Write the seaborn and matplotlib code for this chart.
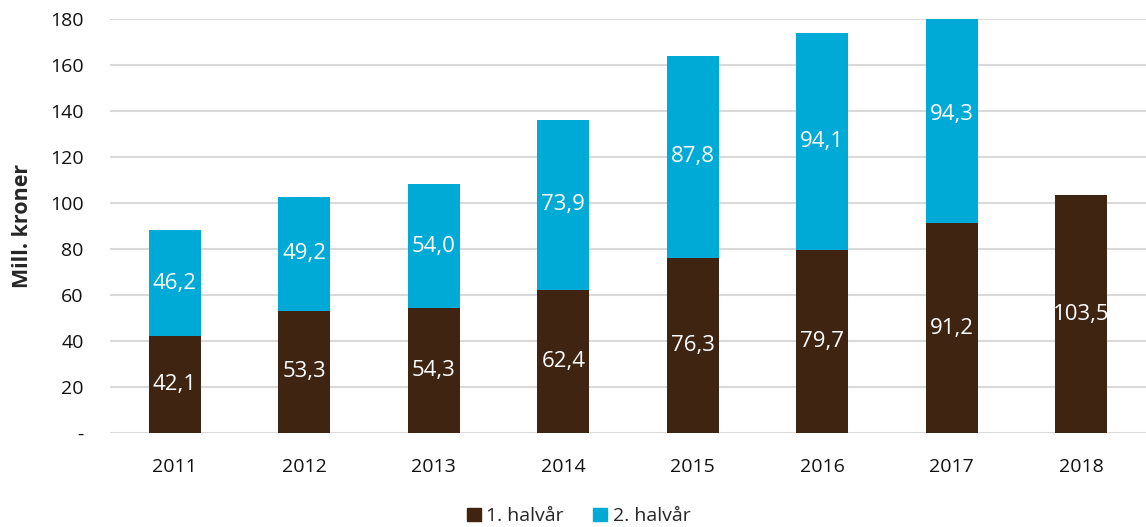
import numpy as np
import pandas as pd
import seaborn as sns
from matplotlib import pyplot as plt
from matplotlib.patches import Patch

years = ["2011", "2012", "2013", "2014", "2015", "2016", "2017", "2018"]
first_half = [42.1, 53.3, 54.3, 62.4, 76.3, 79.7, 91.2, 103.5]
second_half = [46.2, 49.2, 54.0, 73.9, 87.8, 94.1, 94.3, np.nan]
series_names = ["1. halvår", "2. halvår"]

brown = "#3F2411"
cyan = "#00AAD6"

sns.set_theme(style="white")
plt.rcParams['font.family'] = ['Open Sans', 'DejaVu Sans']

df = pd.DataFrame({"year": years, "h1": first_half, "h2": second_half})
df["total"] = df["h1"] + df["h2"].fillna(0)

fig, ax = plt.subplots(figsize=(11.46, 5.27), dpi=100)
fig.subplots_adjust(left=0.096, right=1.0, top=0.964, bottom=0.178)

# stacked: total in cyan underneath, first half in brown on top
sns.barplot(data=df, x="year", y="total", color=cyan, width=0.4,
            saturation=1, linewidth=0, ax=ax, zorder=3)
sns.barplot(data=df, x="year", y="h1", color=brown, width=0.4,
            saturation=1, linewidth=0, ax=ax, zorder=3)

# labels in the middle of each segment
for i, (a, b) in enumerate(zip(first_half, second_half)):
    ax.text(i, a / 2, f"{a:.1f}".replace(".", ","), ha="center", va="center",
            color="white", fontsize=16, zorder=4)
    if not np.isnan(b):
        ax.text(i, a + b / 2, f"{b:.1f}".replace(".", ","), ha="center", va="center",
                color="white", fontsize=16, zorder=4)

ax.set_ylim(0, 180)
ax.set_xlim(-0.5, len(years) - 0.5)
ax.set_yticks(range(0, 181, 20))
ax.set_yticklabels(["-"] + [str(v) for v in range(20, 181, 20)])
ax.yaxis.grid(True, color="#D9D9D9", linewidth=1.5, zorder=0)
ax.set_axisbelow(True)
for s in ax.spines.values():
    s.set_visible(False)
ax.tick_params(axis="y", length=0, pad=19, labelsize=14, labelcolor="#111111")
ax.tick_params(axis="x", length=0, pad=18, labelsize=14, labelcolor="#111111")
ax.set_xlabel("")
ax.set_ylabel("Mill. kroner", fontsize=15.5, fontweight="bold", labelpad=12)

handles = [Patch(color=brown), Patch(color=cyan)]
fig.legend(handles, series_names, loc="lower center", ncol=2, frameon=False,
           fontsize=14, handlelength=0.7, handleheight=0.7, handletextpad=0.3,
           columnspacing=1.5, bbox_to_anchor=(0.505, -0.03))

fig.savefig("out.png", dpi=100)
